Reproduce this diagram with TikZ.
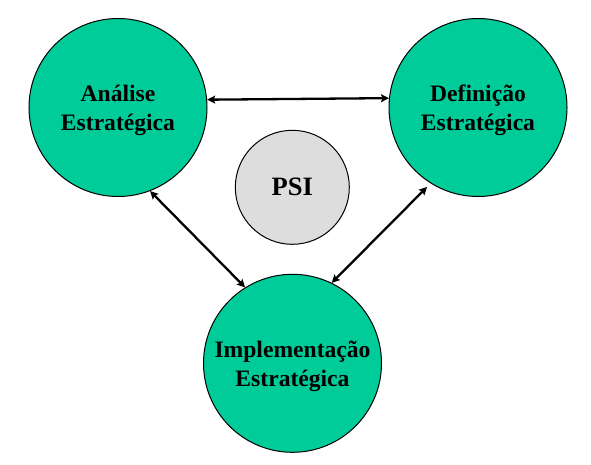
\documentclass[tikz,border=0pt]{standalone}
\usepackage{fontspec}
\setmainfont{Liberation Serif}
\usetikzlibrary{arrows.meta}
\definecolor{stgreen}{RGB}{0,204,153}
\definecolor{psigray}{RGB}{221,221,221}
\tikzset{
  bigc/.style={circle,draw=black,line width=1bp,fill=stgreen,minimum size=178bp,inner sep=0pt},
  psic/.style={circle,draw=black,line width=1bp,fill=psigray,minimum size=114bp,inner sep=0pt},
  lbl/.style={align=center,inner sep=0pt,font=\fontsize{23.6bp}{29.5bp}\selectfont\bfseries},
  psilbl/.style={inner sep=0pt,font=\fontsize{26.5bp}{30bp}\selectfont\bfseries},
  link/.style={line width=2.3bp,{Stealth[length=8bp,width=8bp,inset=1.5bp]}-{Stealth[length=8bp,width=8bp,inset=1.5bp]}}
}
\begin{document}
\begin{tikzpicture}[x=1bp,y=-1bp]
\useasboundingbox (0,0) rectangle (591,465);
\node[bigc] (A) at (118,107.5) {};
\node[bigc] (D) at (478,107.5) {};
\node[bigc] (I) at (292.5,363.3) {};
\node[psic] (P) at (292.3,187.3) {};
\node[lbl] (At) at ([yshift=-3bp]A.center) {Análise\\Estratégica};
\node[lbl] (Dt) at ([yshift=-3bp]D.center) {Definição\\Estratégica};
\node[lbl] (It) at ([yshift=-3bp]I.center) {Implementação\\Estratégica};
\node[psilbl] (Pt) at (P.center) {PSI};
\draw[link] (A.5.5) -- (D.174.5);
\draw[link] (A.-69) -- (I.122);
\draw[link,shorten >=5bp] (I.64) -- (D.-122);
\end{tikzpicture}
\end{document}
